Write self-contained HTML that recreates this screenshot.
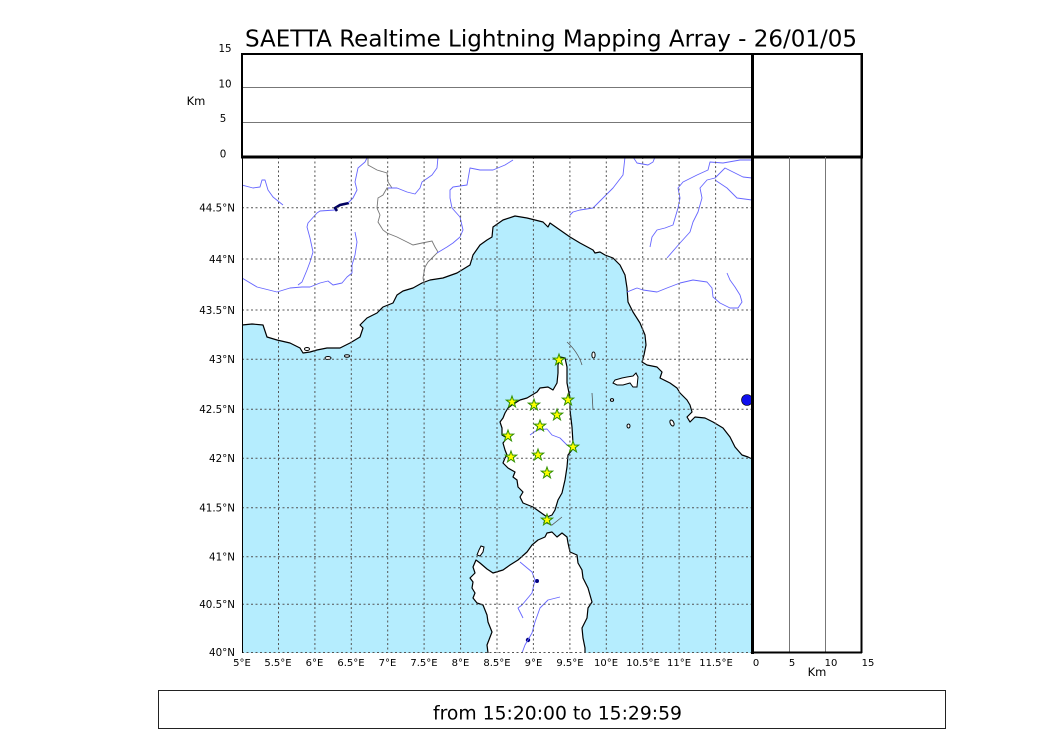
<!DOCTYPE html>
<html><head><meta charset="utf-8"><style>
html,body{margin:0;padding:0;background:#fff;}
svg{display:block;}
text{font-family:"DejaVu Sans","Liberation Sans",sans-serif;fill:#000;}
</style></head><body>
<svg width="1050" height="750" viewBox="0 0 1050 750" xmlns="http://www.w3.org/2000/svg">
<defs>
<path id="st" d="M0,-6 L1.41,-1.94 L5.71,-1.85 L2.28,0.74 L3.53,4.85 L0,2.4 L-3.53,4.85 L-2.28,0.74 L-5.71,-1.85 L-1.41,-1.94 Z" fill="#ffff00" stroke="#2f8f00" stroke-width="1"/>
<clipPath id="mc"><rect x="242" y="157" width="510" height="496"/></clipPath>
</defs>
<rect width="1050" height="750" fill="#fff"/>
<!-- Title -->
<text x="245" y="46.7" font-size="22.9" textLength="612" lengthAdjust="spacingAndGlyphs">SAETTA Realtime Lightning Mapping Array - 26/01/05</text>

<!-- Map -->
<g clip-path="url(#mc)">
<rect x="242" y="157" width="510" height="496" fill="#b5edfe"/>
<!-- mainland -->
<path fill="#fff" stroke="#000" stroke-width="1.2" stroke-linejoin="round" d="M242,150 L242,325 L252,324 L263,325 L267,337 L277,340 L290,343 L300,348 L303,353 L310,352 L317,350 L327,348 L340,348 L350,343 L360,337 L363,328 L360,325 L367,318 L377,313 L383,307 L393,303 L397,295 L403,291 L413,288 L422,283 L430,280 L443,278 L457,273 L470,265 L473,255 L480,245 L487,240 L492,237 L493,227 L503,220 L515,216 L527,218 L543,222 L548,227 L550,223 L560,230 L570,237 L580,243 L593,250 L595,253 L600,252 L605,255 L613,258 L620,265 L625,275 L627,288 L628,302 L633,312 L640,323 L645,335 L646,345 L644,355 L642,362 L647,365 L657,367 L662,372 L660,378 L670,383 L677,388 L680,393 L687,400 L690,405 L692,412 L687,417 L690,422 L695,417 L705,418 L713,422 L723,428 L730,437 L735,447 L742,455 L748,457 L756,461 L760,150 Z"/>
<!-- Corsica -->
<path fill="#fff" stroke="#000" stroke-width="1.2" stroke-linejoin="round" d="M558,365 L560,357 L565,358 L567,367 L567,383 L570,398 L570,410 L572,427 L573,443 L572,450 L568,455 L567,467 L565,480 L562,493 L558,500 L555,510 L552,515 L547,517 L540,512 L533,507 L523,503 L520,497 L523,492 L518,487 L517,480 L513,477 L515,472 L508,468 L503,463 L505,458 L507,455 L505,450 L503,443 L507,438 L502,435 L502,428 L500,422 L503,418 L505,413 L508,408 L512,405 L520,400 L527,398 L537,392 L540,388 L548,387 L553,390 L557,383 L558,373 Z"/>
<!-- Sardinia -->
<path fill="#fff" stroke="#000" stroke-width="1.2" stroke-linejoin="round" d="M488,660 L488,653 L487,645 L492,632 L488,622 L487,615 L483,605 L477,603 L473,598 L475,593 L472,588 L473,582 L470,578 L475,573 L473,567 L476,560 L480,563 L487,569 L493,573 L503,570 L510,565 L518,560 L527,552 L532,545 L538,540 L545,537 L547,533 L552,532 L557,537 L562,533 L567,537 L568,543 L570,552 L577,555 L578,563 L582,570 L583,578 L588,588 L592,602 L588,608 L587,618 L582,628 L583,638 L585,648 L585,660 Z"/>
<path fill="#fff" stroke="#000" stroke-width="1" d="M479,550 L481,546 L484,547 L483,552 L480,556 L477,555 Z"/>
<!-- Elba and small islands -->
<path fill="#fff" stroke="#000" stroke-width="1" d="M615,380 L622,378 L627,377 L633,376 L636,373 L638,377 L637,387 L633,387 L630,383 L623,385 L617,385 L613,383 Z"/>
<ellipse cx="593.5" cy="355" rx="1.6" ry="3" fill="#fff" stroke="#000" stroke-width="1"/>
<ellipse cx="612" cy="400" rx="1.6" ry="1.4" fill="#fff" stroke="#000" stroke-width="1"/>
<ellipse cx="628.5" cy="426" rx="1.5" ry="2" fill="#fff" stroke="#000" stroke-width="1"/>
<ellipse cx="672" cy="423" rx="1.8" ry="3.2" transform="rotate(-25 672 423)" fill="#fff" stroke="#000" stroke-width="1"/>
<ellipse cx="307" cy="349" rx="2.5" ry="1.5" fill="#fff" stroke="#000" stroke-width="1"/>
<ellipse cx="328" cy="358" rx="3" ry="1.5" fill="#fff" stroke="#000" stroke-width="1"/>
<ellipse cx="347" cy="356" rx="2.5" ry="1.2" fill="#fff" stroke="#000" stroke-width="1"/>
<!-- lakes -->
<circle cx="747" cy="400" r="5.5" fill="#1010ee" stroke="#000" stroke-width="0.6"/>
<path d="M337,211 L335,208 L340,205 L349,203" fill="none" stroke="#000060" stroke-width="2.6"/>
<circle cx="537" cy="581" r="2" fill="#000080"/>
<circle cx="528" cy="640" r="2.2" fill="#000080"/>
<!-- border -->
<path fill="none" stroke="#777" stroke-width="0.9" d="M368,157 L368,165 L377,170 L387,173 L388,182 L392,188 L387,188 L383,195 L378,198 L377,208 L380,215 L378,222 L383,230 L387,233 L397,237 L407,242 L413,245 L422,243 L432,241 L435,247 L438,252 L433,257 L428,262 L425,267 L423,278 L424,283"/>
<!-- rivers -->
<g fill="none" stroke="#6666ff" stroke-width="0.9" stroke-linejoin="round">
<path d="M242,185 L253,188 L260,187 L262,180 L265,180 L268,190 L273,197 L283,205"/>
<path d="M367,158 L365,162 L358,168 L355,182 L357,190 L353,198 L348,203"/>
<path d="M335,210 L320,211 L317,213 L308,223 L307,227 L310,238 L313,252 L310,262 L307,270 L302,282 L298,285"/>
<path d="M242,278 L257,287 L277,292 L290,288 L302,287 L310,287 L320,283 L328,281 L333,285 L342,283 L347,277 L352,273 L352,265 L355,255 L357,242 L355,232"/>
<path d="M388,188 L397,188 L407,192 L415,194 L420,188 L422,182 L432,175 L437,168 L438,157"/>
<path d="M437,253 L447,247 L453,243 L460,237 L463,230 L460,217 L452,208 L450,198 L450,190 L453,187 L467,185 L470,168 L480,170 L493,170 L505,165 L513,160"/>
<path d="M625,157 L623,175 L613,188 L603,198 L593,208 L580,210 L573,212 L570,215"/>
<path d="M633,157 L637,163 L648,165 L653,162 L655,157"/>
<path d="M752,160 L740,160 L723,163 L710,162 L708,170 L697,175 L683,182 L678,188 L680,198 L678,208 L673,225 L665,228 L657,230 L652,237 L650,247"/>
<path d="M752,178 L743,177 L733,172 L725,168 L715,178 L707,180 L700,188 L702,198 L698,212 L693,222 L690,232 L680,243 L667,258"/>
<path d="M715,180 L727,188 L737,198 L752,200"/>
<path d="M627,292 L637,288 L643,290 L657,292 L667,288 L680,283 L693,280 L707,282 L712,288 L713,297 L720,303 L730,308 L738,308 L742,302 L740,295 L735,287 L730,280 L727,273"/>
<path d="M530,435 L537,430 L547,429 L552,435 L560,438 L567,445 L572,448"/>
<path d="M520,562 L532,572 L535,580 L532,593 L522,605 L518,608 L523,618"/>
<path d="M560,597 L548,600 L540,608 L535,622 L532,633 L525,645 L522,653"/>
</g>
<!-- thin lines -->
<g fill="none" stroke="#555" stroke-width="0.8">
<path d="M567,342 Q578,352 582,365"/>
<path d="M592,393 L593,410"/>
<path d="M543,522 L552,525 L562,517"/>
</g>
<!-- grid -->
<g stroke="#555" stroke-width="1" stroke-dasharray="2,2.5" fill="none">
<path d="M278.5,157 V653 M314.9,157 V653 M351.3,157 V653 M387.7,157 V653 M424.1,157 V653 M460.6,157 V653 M497,157 V653 M533.4,157 V653 M569.9,157 V653 M606.3,157 V653 M642.7,157 V653 M679.1,157 V653 M715.6,157 V653"/>
<path d="M242,207.7 H752 M242,259 H752 M242,310 H752 M242,359.3 H752 M242,409.3 H752 M242,458.3 H752 M242,507.7 H752 M242,556.7 H752 M242,604.3 H752 M242,652.5 H752"/>
</g>
<!-- stars -->
<use href="#st" x="559" y="360"/>
<use href="#st" x="512" y="402"/>
<use href="#st" x="534" y="405"/>
<use href="#st" x="568" y="400"/>
<use href="#st" x="557" y="415"/>
<use href="#st" x="540" y="426"/>
<use href="#st" x="508" y="436"/>
<use href="#st" x="573" y="447"/>
<use href="#st" x="511" y="457"/>
<use href="#st" x="538" y="455"/>
<use href="#st" x="547" y="473"/>
<use href="#st" x="547" y="520"/>
</g>
<line x1="242.5" y1="157" x2="242.5" y2="653" stroke="#000" stroke-width="1"/>

<!-- top panel -->
<line x1="242" y1="87.5" x2="752" y2="87.5" stroke="#777" stroke-width="1"/>
<line x1="242" y1="122.5" x2="752" y2="122.5" stroke="#777" stroke-width="1"/>
<rect x="242" y="54" width="620" height="103" fill="none" stroke="#000" stroke-width="2"/>
<line x1="241" y1="157" x2="863" y2="157" stroke="#000" stroke-width="3"/>
<!-- right panel -->
<line x1="789.5" y1="157" x2="789.5" y2="653" stroke="#777" stroke-width="1"/>
<line x1="825.5" y1="157" x2="825.5" y2="653" stroke="#777" stroke-width="1"/>
<line x1="861.5" y1="53" x2="861.5" y2="653" stroke="#000" stroke-width="2"/>
<line x1="752" y1="652.5" x2="862" y2="652.5" stroke="#000" stroke-width="2"/>
<line x1="752.5" y1="53" x2="752.5" y2="654" stroke="#000" stroke-width="3"/>

<!-- labels -->
<g font-size="10.3" text-anchor="middle">
<text x="225" y="52">15</text>
<text x="225" y="87.5">10</text>
<text x="223" y="122">5</text>
<text x="223" y="157.5">0</text>
</g>
<text x="196" y="105" font-size="11.5" text-anchor="middle">Km</text>
<g font-size="10.3" text-anchor="end">
<text x="235" y="211.5">44.5°N</text>
<text x="235" y="262.8">44°N</text>
<text x="235" y="313.8">43.5°N</text>
<text x="235" y="363">43°N</text>
<text x="235" y="413">42.5°N</text>
<text x="235" y="462">42°N</text>
<text x="235" y="511.5">41.5°N</text>
<text x="235" y="560.5">41°N</text>
<text x="235" y="608">40.5°N</text>
<text x="235" y="656">40°N</text>
</g>
<g font-size="10" text-anchor="middle">
<text x="242" y="666">5°E</text>
<text x="278" y="666">5.5°E</text>
<text x="314.5" y="666">6°E</text>
<text x="351" y="666">6.5°E</text>
<text x="387.5" y="666">7°E</text>
<text x="424" y="666">7.5°E</text>
<text x="460.5" y="666">8°E</text>
<text x="497" y="666">8.5°E</text>
<text x="533.5" y="666">9°E</text>
<text x="570" y="666">9.5°E</text>
<text x="606" y="666">10°E</text>
<text x="643" y="666">10.5°E</text>
<text x="679" y="666">11°E</text>
<text x="716" y="666">11.5°E</text>
<text x="756" y="666">0</text>
<text x="792" y="666">5</text>
<text x="831" y="666">10</text>
<text x="868" y="666">15</text>
</g>
<text x="817" y="676" font-size="11.5" text-anchor="middle">Km</text>

<!-- bottom box -->
<rect x="158.5" y="690.5" width="787" height="38" fill="none" stroke="#222" stroke-width="1"/>
<text x="433" y="719.5" font-size="18.7" textLength="249" lengthAdjust="spacingAndGlyphs">from 15:20:00 to 15:29:59</text>
</svg>
</body></html>
